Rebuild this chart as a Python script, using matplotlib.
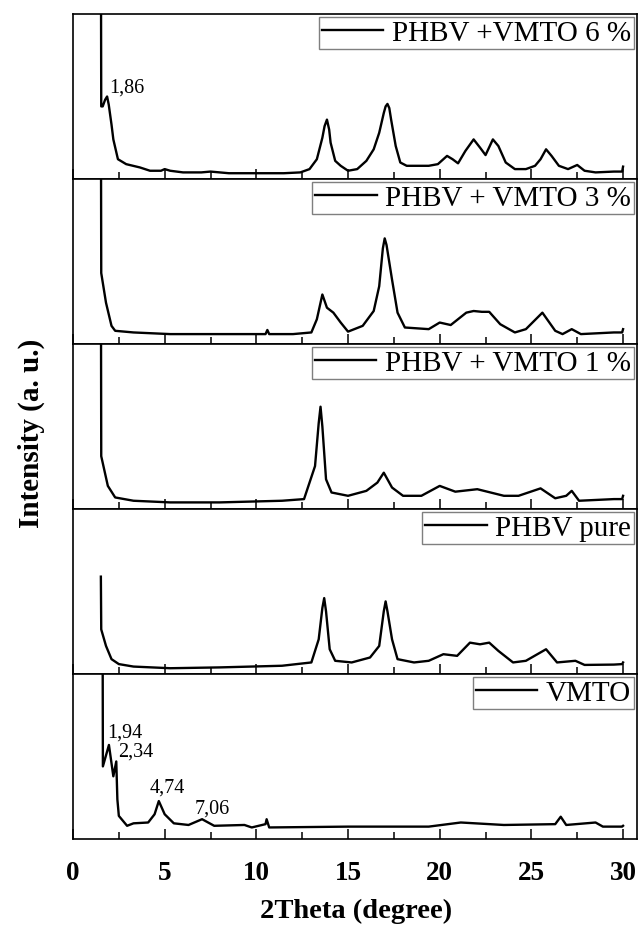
import matplotlib
matplotlib.use("Agg")
import matplotlib.pyplot as plt
from matplotlib.ticker import MultipleLocator

plt.rcParams['font.family'] = ['Liberation Serif', 'DejaVu Serif']
plt.rcParams['mathtext.fontset'] = 'stix'

# ---------------- data ----------------
labels = ["PHBV +VMTO 6 %", "PHBV + VMTO 3 %", "PHBV + VMTO 1 %", "PHBV pure", "VMTO"]

x_6 = [1.52, 1.54, 1.62, 1.75, 1.86, 1.95, 2.1, 2.2, 2.45, 2.9, 3.65, 4.2, 4.8, 5.0, 5.3,
       6.0, 7.0, 7.5, 8.5, 10.0, 11.5, 12.4, 12.9, 13.3, 13.6, 13.72, 13.85, 13.97, 14.05,
       14.3, 14.6, 15.0, 15.5, 16.0, 16.4, 16.7, 16.95, 17.05, 17.15, 17.25, 17.35, 17.6,
       17.85, 18.2, 18.8, 19.4, 19.9, 20.4, 20.7, 21.0, 21.4, 21.85, 22.2, 22.5, 22.9,
       23.2, 23.6, 24.1, 24.7, 25.2, 25.5, 25.8, 26.1, 26.5, 27.0, 27.5, 27.9, 28.5,
       29.5, 29.95, 30.0]
y_6 = [1.6, 0.44, 0.44, 0.48, 0.50, 0.45, 0.33, 0.24, 0.12, 0.09, 0.07, 0.05, 0.05, 0.06, 0.05,
       0.04, 0.04, 0.045, 0.035, 0.035, 0.035, 0.04, 0.06, 0.12, 0.25, 0.32, 0.36, 0.30, 0.22,
       0.11, 0.08, 0.05, 0.06, 0.11, 0.18, 0.28, 0.40, 0.44, 0.455, 0.43, 0.36, 0.20,
       0.10, 0.08, 0.08, 0.08, 0.09, 0.14, 0.12, 0.095, 0.17, 0.24, 0.19, 0.145, 0.24,
       0.20, 0.10, 0.06, 0.06, 0.08, 0.12, 0.18, 0.14, 0.08, 0.06, 0.085, 0.05, 0.04,
       0.045, 0.045, 0.075]

x_3 = [1.52, 1.54, 1.8, 2.1, 2.3, 3.3, 5.3, 8.0, 10.5, 10.6, 10.7, 12.0, 13.0, 13.3, 13.6,
       13.85, 14.2, 14.6, 15.0, 15.8, 16.4, 16.7, 16.9, 17.0, 17.1, 17.4, 17.7, 18.1, 19.4,
       20.0, 20.6, 21.45, 21.85, 22.3, 22.7, 23.3, 24.1, 24.7, 25.6, 26.3, 26.7, 27.2,
       27.7, 29.5, 29.95, 30.0]
y_3 = [1.6, 0.43, 0.25, 0.11, 0.08, 0.07, 0.06, 0.06, 0.06, 0.085, 0.06, 0.06, 0.07, 0.15, 0.30,
       0.22, 0.19, 0.13, 0.075, 0.11, 0.20, 0.35, 0.58, 0.64, 0.60, 0.39, 0.19, 0.10, 0.09,
       0.13, 0.115, 0.19, 0.20, 0.195, 0.195, 0.12, 0.07, 0.09, 0.19, 0.08, 0.06, 0.09,
       0.06, 0.07, 0.07, 0.09]

x_1 = [1.52, 1.54, 1.9, 2.3, 3.3, 5.3, 8.0, 11.4, 12.6, 13.2, 13.4, 13.5, 13.6, 13.8, 14.1,
       15.0, 16.0, 16.6, 16.95, 17.4, 18.0, 19.0, 20.0, 20.85, 22.05, 23.5, 24.3, 25.5,
       26.3, 26.9, 27.2, 27.6, 29.5, 29.95, 30.0]
y_1 = [1.6, 0.32, 0.14, 0.07, 0.05, 0.04, 0.04, 0.05, 0.06, 0.26, 0.52, 0.62, 0.50, 0.18, 0.10,
       0.08, 0.11, 0.16, 0.22, 0.13, 0.08, 0.08, 0.14, 0.105, 0.12, 0.08, 0.08, 0.125,
       0.065, 0.08, 0.11, 0.05, 0.06, 0.06, 0.08]

x_p = [1.52, 1.54, 1.8, 2.1, 2.5, 3.3, 5.3, 8.0, 11.4, 13.0, 13.4, 13.6, 13.7, 13.8, 14.0,
       14.3, 15.2, 16.2, 16.7, 16.95, 17.05, 17.15, 17.4, 17.7, 18.6, 19.4, 20.2, 20.95,
       21.65, 22.2, 22.7, 23.2, 24.0, 24.7, 25.8, 26.4, 27.4, 27.9, 29.5, 29.95, 30.0]
y_p = [0.59, 0.27, 0.17, 0.09, 0.06, 0.045, 0.035, 0.04, 0.05, 0.07, 0.21, 0.40, 0.46, 0.38, 0.15,
       0.08, 0.07, 0.10, 0.17, 0.38, 0.44, 0.38, 0.21, 0.09, 0.07, 0.08, 0.12, 0.11,
       0.19, 0.18, 0.19, 0.14, 0.07, 0.08, 0.15, 0.07, 0.08, 0.055, 0.057, 0.06, 0.07]

x_v = [1.61, 1.63, 1.96, 2.2, 2.36, 2.42, 2.5, 2.95, 3.3, 4.1, 4.45, 4.68, 5.0, 5.5, 6.3,
       7.04, 7.7, 9.35, 9.75, 10.5, 10.56, 10.7, 15.0, 19.4, 21.15, 23.5, 26.3, 26.6,
       26.9, 28.5, 28.9, 29.95, 30.0]
y_v = [1.6, 0.44, 0.57, 0.38, 0.47, 0.24, 0.14, 0.08, 0.095, 0.10, 0.15, 0.23, 0.15, 0.095, 0.085,
       0.12, 0.08, 0.085, 0.07, 0.09, 0.12, 0.07, 0.075, 0.075, 0.10, 0.085, 0.09, 0.135,
       0.085, 0.10, 0.075, 0.075, 0.08]

series_x = [x_6, x_3, x_1, x_p, x_v]
series_y = [y_6, y_3, y_1, y_p, y_v]

# peak annotations: (panel index, text, x, y)
ann_panel = [0, 4, 4, 4, 4]
ann_text = ["1,86", "1,94", "2,34", "4,74", "7,06"]
ann_x = [2.0, 1.85, 2.46, 4.2, 6.64]
ann_y = [0.53, 0.62, 0.506, 0.287, 0.162]

xticks = [0, 5, 10, 15, 20, 25, 30]

# ---------------- figure ----------------
fig = plt.figure(figsize=(6.38, 9.28), dpi=100)
left, right, top, bottom = 73/638, 637/638, 1-15/928, 1-840/928
gs = fig.add_gridspec(5, 1, left=left, right=right, top=top, bottom=bottom, hspace=0)

axes = []
for i in range(5):
    ax = fig.add_subplot(gs[i, 0])
    axes.append(ax)
    ax.plot(series_x[i], series_y[i], color='black', lw=1.7, label=labels[i],
            solid_joinstyle='round')
    ax.set_xlim(0, 30.76)
    ax.set_ylim(0, 1)
    ax.set_yticks([])
    ax.xaxis.set_major_locator(MultipleLocator(5))
    ax.xaxis.set_minor_locator(MultipleLocator(2.5))
    ax.tick_params(axis='x', which='major', direction='in', length=7, width=1.1,
                   top=False, bottom=True)
    ax.tick_params(axis='x', which='minor', direction='in', length=5, width=1.1,
                   top=False, bottom=True)
    for s in ax.spines.values():
        s.set_linewidth(1.2)
    if i < 4:
        ax.tick_params(axis='x', which='both', labelbottom=False)
    else:
        ax.set_xticks(xticks)
        ax.set_xticklabels([str(t) for t in xticks], fontsize=19.5, fontweight='bold')
        ax.tick_params(axis='x', which='major', pad=15)
    leg = ax.legend(loc='upper right', fontsize=21, frameon=True, fancybox=False,
                    edgecolor='#7f7f7f', framealpha=1, borderaxespad=0.1,
                    borderpad=0.1, handlelength=2.1, handletextpad=0.3)
    leg.get_frame().set_linewidth(1.0)

for p, t, x, y in zip(ann_panel, ann_text, ann_x, ann_y):
    axes[p].text(x, y, t, fontsize=14.5, ha='left', va='baseline')

fig.text(356/638, 1-911/928, "2Theta (degree)", fontsize=20.5, fontweight='bold',
         ha='center', va='center')
fig.text(31/638, 1-433/928, "Intensity (a. u.)", fontsize=21, fontweight='bold',
         ha='center', va='center', rotation=90)

fig.savefig("out.png", dpi=100)
